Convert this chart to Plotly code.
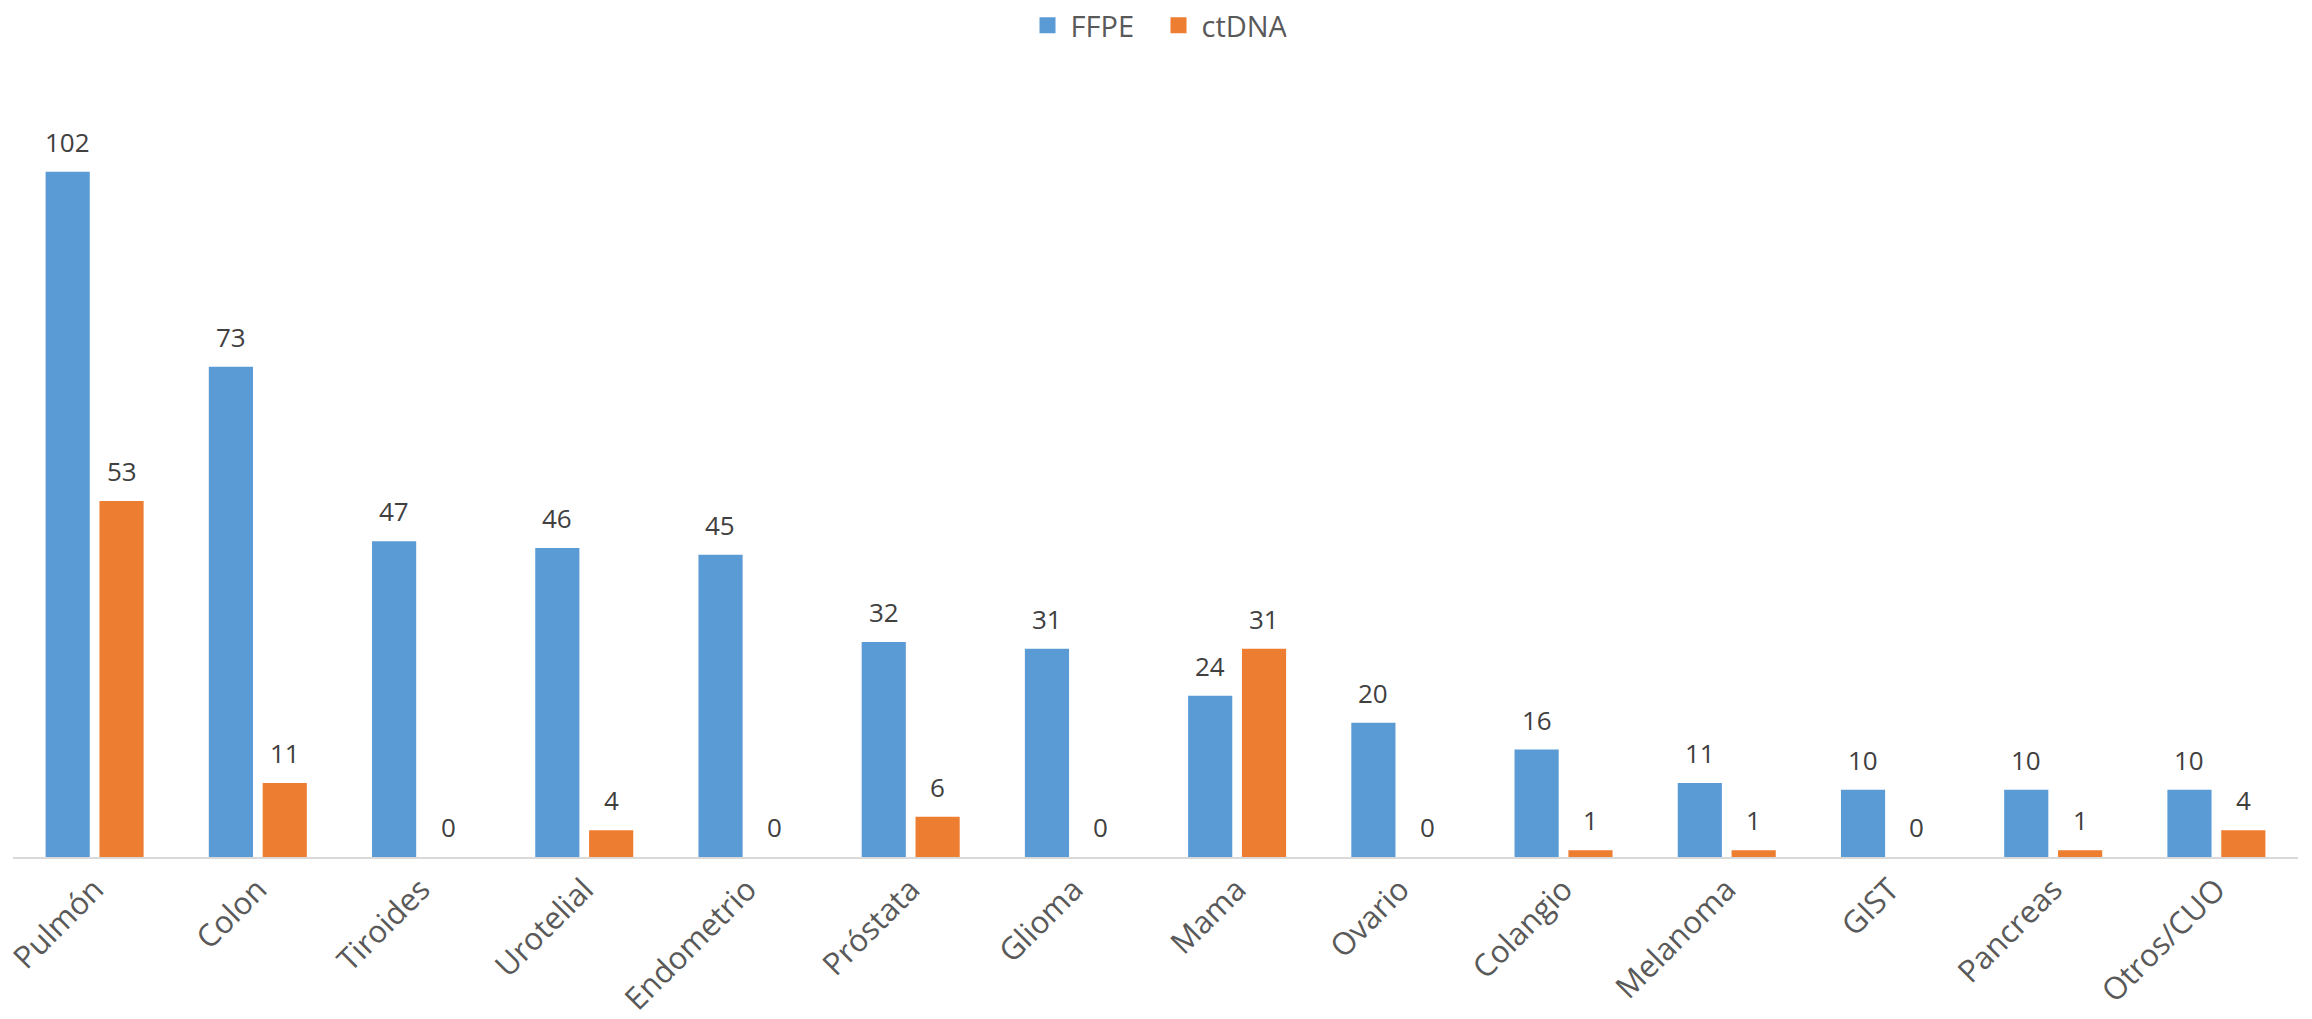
import plotly.graph_objects as go

# Tumour types and number of samples per sample type
categories = ["Pulmón", "Colon", "Tiroides", "Urotelial", "Endometrio", "Próstata",
              "Glioma", "Mama", "Ovario", "Colangio", "Melanoma", "GIST",
              "Pancreas", "Otros/CUO"]
ffpe = [102, 73, 47, 46, 45, 32, 31, 24, 20, 16, 11, 10, 10, 10]
ctdna = [53, 11, 0, 4, 0, 6, 0, 31, 0, 1, 1, 0, 1, 4]

FONT = "Open Sans, Segoe UI, sans-serif"
TEXT_COLOR = "#595959"
VALUE_COLOR = "#404040"
series = [("FFPE", ffpe, "#5B9BD5", -27), ("ctDNA", ctdna, "#ED7D31", 27)]

fig = go.Figure()
for name, vals, color, _ in series:
    fig.add_trace(go.Bar(
        name=name, x=categories, y=vals, showlegend=False,
        marker=dict(color=color, line=dict(width=0)),
    ))
# legend entries drawn as square swatches
for name, vals, color, _ in series:
    fig.add_trace(go.Scatter(
        name=name, x=[None], y=[None], mode="markers",
        marker=dict(symbol="square", size=20, color=color),
    ))

# value labels above each bar (offset to the bar's slot inside the group)
annotations = []
for name, vals, color, dx in series:
    for cat, v in zip(categories, vals):
        annotations.append(dict(
            x=cat, y=v, text=str(v), showarrow=False, xanchor="center",
            yanchor="bottom", xshift=dx, yshift=10,
            font=dict(family=FONT, size=26, color=VALUE_COLOR),
        ))

fig.update_layout(
    width=2312, height=1019,
    margin=dict(l=13, r=14, t=100, b=162, autoexpand=False),
    paper_bgcolor="white", plot_bgcolor="white",
    barmode="group", bargap=0.34, bargroupgap=0.18,
    font=dict(family=FONT, color=TEXT_COLOR, size=26),
    annotations=annotations,
    legend=dict(orientation="h", x=0.5, xanchor="center", y=1.0, yanchor="top",
                yref="container", font=dict(size=29, color=TEXT_COLOR),
                itemsizing="trace", itemwidth=36, entrywidth=80),
    xaxis=dict(showline=True, linecolor="#D9D9D9", linewidth=2, tickangle=-45,
               ticks="", showgrid=False, automargin=False,
               tickfont=dict(size=31, color=TEXT_COLOR)),
    yaxis=dict(range=[0, 112.7], visible=False, showgrid=False, zeroline=False,
               automargin=False),
)

fig.write_html("out.html")
